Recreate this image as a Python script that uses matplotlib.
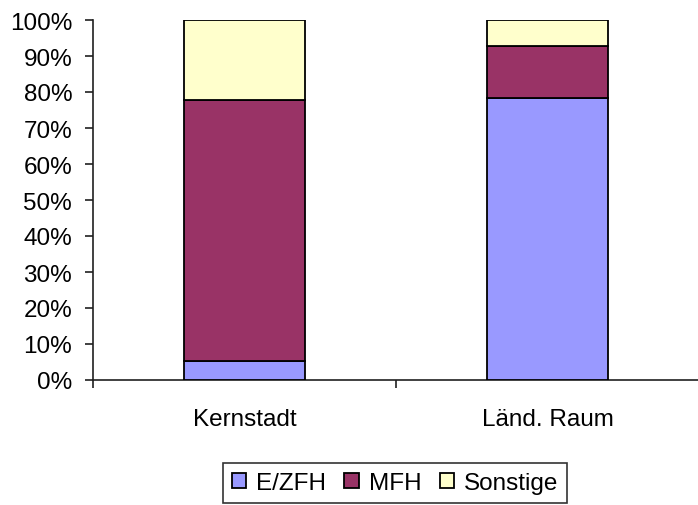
import numpy as np
import matplotlib
matplotlib.use("Agg")
import matplotlib.pyplot as plt
from matplotlib.ticker import FixedLocator, PercentFormatter

plt.rcParams['font.family'] = ['Liberation Sans', 'DejaVu Sans']

# share of building types per area (percent)
areas = ["Kernstadt", "Länd. Raum"]
ezfh = [5.4, 78.3]
mfh = [72.4, 14.5]
sonstige = [22.2, 7.2]
series_names = ["E/ZFH", "MFH", "Sonstige"]
colors = ["#9999FF", "#993366", "#FFFFCC"]

fs = 17.5

fig = plt.figure(figsize=(6.98, 5.06), dpi=100)
ax = fig.add_axes([93 / 698, 125 / 506, 606 / 698, 360 / 506])

x = np.arange(len(areas))
bottom = np.zeros(len(areas))
for name, vals, c in zip(series_names, [ezfh, mfh, sonstige], colors):
    ax.bar(x, vals, 0.40, bottom=bottom, color=c, edgecolor="black",
           linewidth=1.3, label=name, zorder=3)
    bottom += np.array(vals)

ax.set_xlim(-0.5, len(areas) - 0.5)
ax.set_ylim(0, 100)
ax.yaxis.set_major_locator(FixedLocator(np.arange(0, 101, 10)))
ax.yaxis.set_major_formatter(PercentFormatter(decimals=0))

# category ticks sit between the bars, labels centred under them
ax.set_xticks(np.arange(-0.5, len(areas), 1.0))
ax.set_xticklabels([])
ax.set_xticks(x, minor=True)
ax.set_xticklabels(areas, minor=True)
ax.tick_params(axis="x", which="minor", length=0, pad=20, labelsize=fs)
ax.tick_params(axis="x", which="major", length=6, width=1.2, color="#202020")
ax.tick_params(axis="y", length=6, width=1.2, color="#202020", labelsize=fs, pad=9)

for s in ["top", "right"]:
    ax.spines[s].set_visible(False)
for s in ["left", "bottom"]:
    ax.spines[s].set_linewidth(1.2)
    ax.spines[s].set_color("#202020")

leg = fig.legend(loc="center", bbox_to_anchor=(395 / 698, 22 / 506), ncol=3,
                 fontsize=fs, frameon=True, fancybox=False, edgecolor="black",
                 handlelength=0.6, handleheight=0.6, handletextpad=0.4,
                 columnspacing=0.75, borderpad=0.35, borderaxespad=0)
leg.get_frame().set_linewidth(1.2)

fig.savefig("out.png", dpi=100)
